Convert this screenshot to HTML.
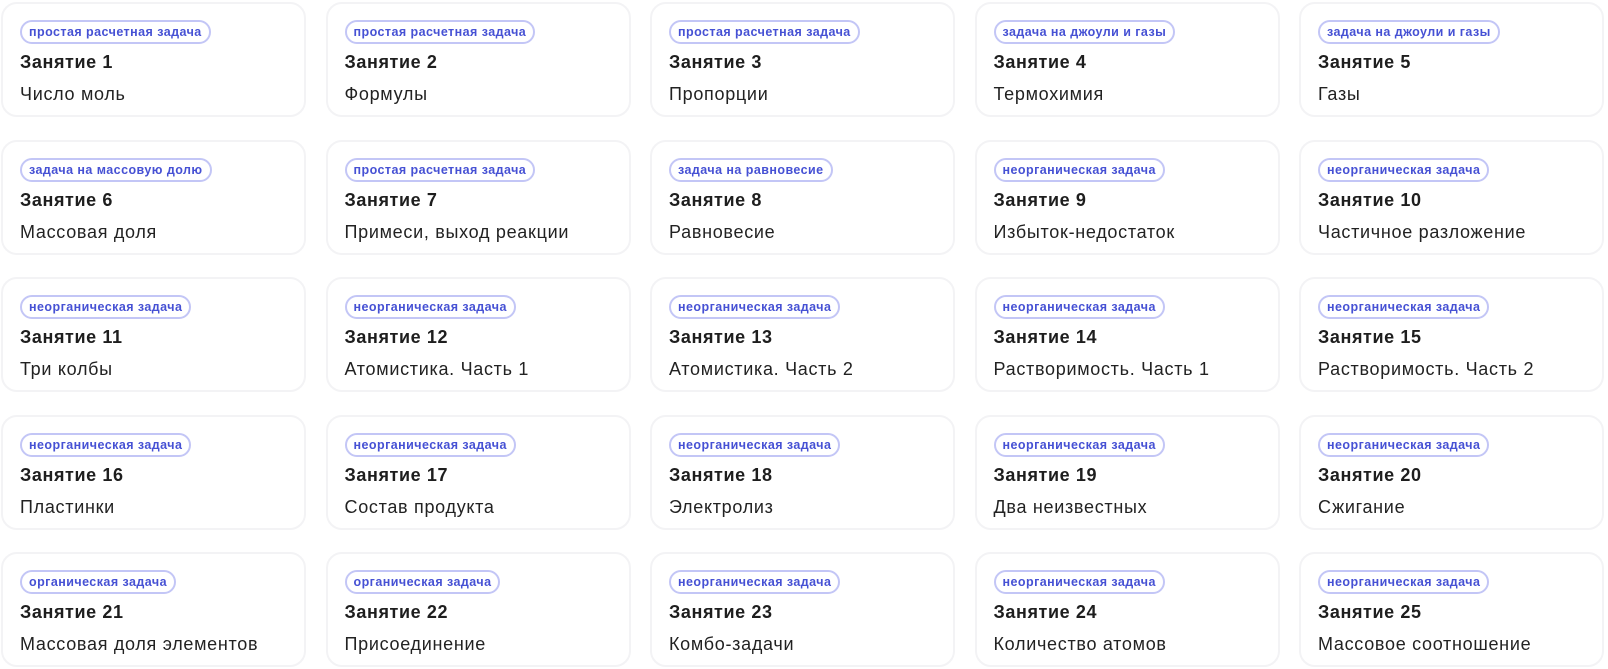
<!DOCTYPE html>
<html><head><meta charset="utf-8"><style>
body{margin:0;width:1608px;height:669px;background:#fff;position:relative;font-family:"Liberation Sans",sans-serif;overflow:hidden}
.c{position:absolute;width:301px;height:111px;border:2px solid #f3f3f5;border-radius:16px;background:#fff;box-sizing:content-box}
.p{position:absolute;left:17px;top:16px;height:20px;line-height:20px;padding:0 7px;border:2px solid #c3c6f6;border-radius:12px;color:#4651d4;font-size:12.5px;font-weight:bold;letter-spacing:0.45px;white-space:nowrap}
.t{position:absolute;left:17px;top:48px;font-size:18px;font-weight:bold;color:#1e1e1e;letter-spacing:0.6px}
.s{position:absolute;left:17px;top:80px;font-size:18px;color:#222;letter-spacing:0.7px}
</style></head><body>
<script>
const d=[["простая расчетная задача","Число моль"],["простая расчетная задача","Формулы"],["простая расчетная задача","Пропорции"],["задача на джоули и газы","Термохимия"],["задача на джоули и газы","Газы"],
["задача на массовую долю","Массовая доля"],["простая расчетная задача","Примеси, выход реакции"],["задача на равновесие","Равновесие"],["неорганическая задача","Избыток-недостаток"],["неорганическая задача","Частичное разложение"],
["неорганическая задача","Три колбы"],["неорганическая задача","Атомистика. Часть 1"],["неорганическая задача","Атомистика. Часть 2"],["неорганическая задача","Растворимость. Часть 1"],["неорганическая задача","Растворимость. Часть 2"],
["неорганическая задача","Пластинки"],["неорганическая задача","Состав продукта"],["неорганическая задача","Электролиз"],["неорганическая задача","Два неизвестных"],["неорганическая задача","Сжигание"],
["органическая задача","Массовая доля элементов"],["органическая задача","Присоединение"],["неорганическая задача","Комбо-задачи"],["неорганическая задача","Количество атомов"],["неорганическая задача","Массовое соотношение"]];
let h="";d.forEach((x,i)=>{const c=i%5,r=Math.floor(i/5);h+=`<div class="c" style="left:${1+c*324.5}px;top:${2+r*137.5}px"><div class="p">${x[0]}</div><div class="t">Занятие ${i+1}</div><div class="s">${x[1]}</div></div>`});document.write(h);
</script>
</body></html>
